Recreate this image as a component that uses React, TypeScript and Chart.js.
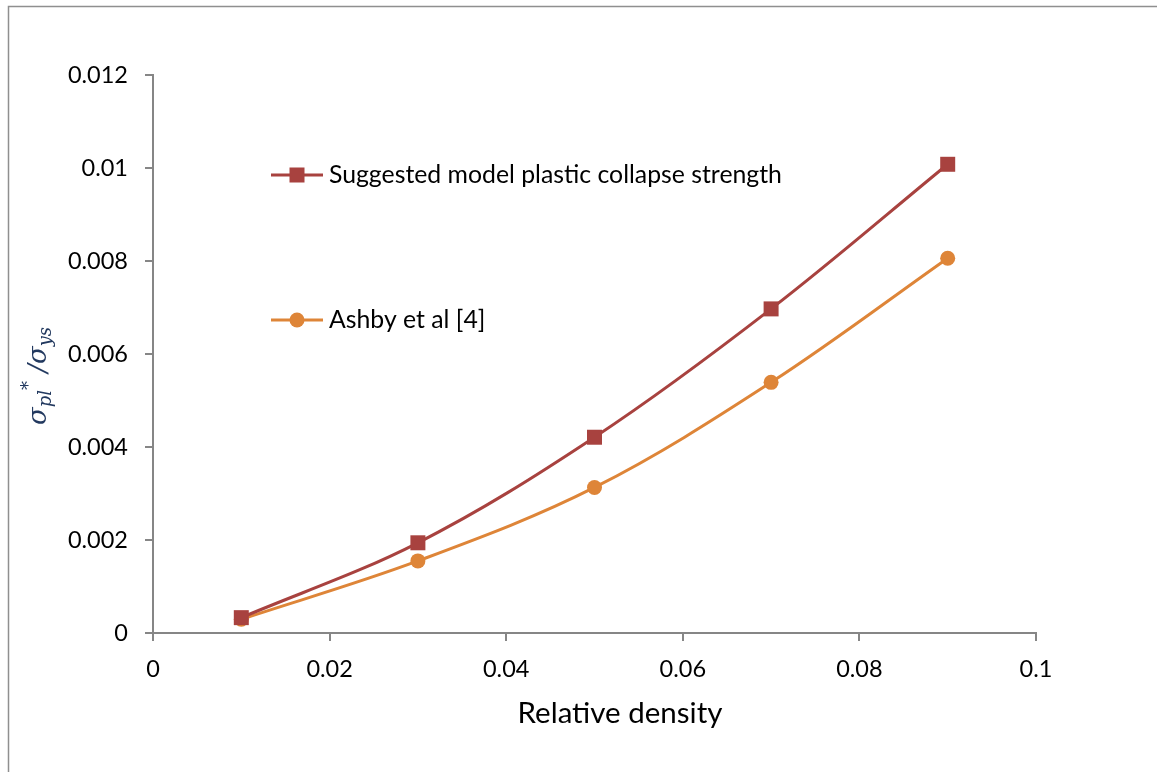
import React, { useEffect, useRef } from "react";
import { Chart, registerables } from "chart.js";

Chart.register(...registerables);

const densities = [0.01, 0.03, 0.05, 0.07, 0.09];
const suggestedValues = [0.00033, 0.00194, 0.00421, 0.00697, 0.01008];
const ashbyValues = [0.000295, 0.00155, 0.00313, 0.00539, 0.00806];
const seriesNames = ["Suggested model plastic collapse strength", "Ashby et al [4]"];
const xTitle = "Relative density";

const RED = "#A8423F";
const ORANGE = "#DE8538";
const AXIS = "#868686";
const FONT = "Lato, 'Open Sans', sans-serif";

const fmt = (v: number) => String(Number(v.toFixed(4)));

const decorPlugin = {
  id: "decor",
  beforeDraw(chart: any) {
    const ctx = chart.ctx;
    ctx.save();
    ctx.strokeStyle = "#8f8f8f";
    ctx.lineWidth = 1.5;
    ctx.beginPath();
    ctx.moveTo(8.5, 800);
    ctx.lineTo(8.5, 6.5);
    ctx.lineTo(1200, 6.5);
    ctx.stroke();
    ctx.restore();
  },
  afterDraw(chart: any) {
    const ctx = chart.ctx;
    ctx.save();
    // Legend
    const items = [
      { name: seriesNames[0], color: RED, style: "rect", y: 175 },
      { name: seriesNames[1], color: ORANGE, style: "circle", y: 320 },
    ];
    for (const it of items) {
      ctx.strokeStyle = it.color;
      ctx.lineWidth = 3;
      ctx.beginPath();
      ctx.moveTo(271, it.y);
      ctx.lineTo(323, it.y);
      ctx.stroke();
      ctx.fillStyle = it.color;
      if (it.style === "rect") {
        ctx.fillRect(297 - 7.5, it.y - 7.5, 15, 15);
      } else {
        ctx.beginPath();
        ctx.arc(297, it.y, 7.5, 0, Math.PI * 2);
        ctx.fill();
      }
      ctx.fillStyle = "#000";
      ctx.font = `24.8px ${FONT}`;
      ctx.textBaseline = "middle";
      ctx.textAlign = "left";
      ctx.fillText(it.name, 329, it.y);
    }
    // X title
    ctx.fillStyle = "#000";
    ctx.font = `29.5px ${FONT}`;
    ctx.textAlign = "center";
    ctx.textBaseline = "middle";
    ctx.fillText(xTitle, 620, 713);

    // Y title: sigma_pl^* / sigma_ys
    ctx.translate(46, 376);
    ctx.rotate(-Math.PI / 2);
    ctx.fillStyle = "#22395F";
    ctx.textBaseline = "alphabetic";
    ctx.textAlign = "left";
    const big = `italic 26px 'DejaVu Serif', 'Liberation Serif', serif`;
    const small = `italic 18px 'DejaVu Serif', 'Liberation Serif', serif`;
    const parts = [
      { t: "σ", f: big, dy: 0 },
      { t: "pl", f: small, dy: 5 },
      { t: "*", f: small, dy: -12 },
      { t: " /", f: big, dy: 0 },
      { t: "σ", f: big, dy: 0 },
      { t: "ys", f: small, dy: 5 },
    ];
    let total = 0;
    for (const p of parts) {
      ctx.font = p.f;
      total += ctx.measureText(p.t).width;
    }
    let x = -total / 2;
    for (const p of parts) {
      ctx.font = p.f;
      ctx.fillText(p.t, x, p.dy);
      x += ctx.measureText(p.t).width;
    }
    ctx.restore();
  },
};

export default function App() {
  const ref = useRef<HTMLCanvasElement | null>(null);
  useEffect(() => {
    if (!ref.current) return;
    const chart = new Chart(ref.current, {
      type: "line",
      data: {
        datasets: [
          {
            label: seriesNames[0],
            data: densities.map((d, i) => ({ x: d, y: suggestedValues[i] })),
            borderColor: RED,
            backgroundColor: RED,
            borderWidth: 3,
            pointStyle: "rect",
            pointRadius: 10.6,
            pointBorderWidth: 0,
            tension: 0.35,
            fill: false,
          },
          {
            label: seriesNames[1],
            data: densities.map((d, i) => ({ x: d, y: ashbyValues[i] })),
            borderColor: ORANGE,
            backgroundColor: ORANGE,
            borderWidth: 3,
            pointStyle: "circle",
            pointRadius: 7.5,
            pointBorderWidth: 0,
            tension: 0.35,
            fill: false,
          },
        ],
      },
      options: {
        animation: false,
        responsive: true,
        maintainAspectRatio: false,
        layout: { padding: { top: 75, right: 121, left: 0, bottom: 0 } },
        plugins: { legend: { display: false }, tooltip: { enabled: false } },
        scales: {
          x: {
            type: "linear",
            min: 0,
            max: 0.1,
            ticks: {
              stepSize: 0.02,
              color: "#000",
              font: { family: FONT, size: 23.5 },
              padding: 14,
              callback: (v: any) => fmt(Number(v)),
            },
            grid: { drawOnChartArea: false, drawTicks: true, tickLength: 8, color: AXIS, lineWidth: 2 },
            border: { color: AXIS, width: 2 },
            afterFit: (s: any) => {
              s.height = 139;
            },
          },
          y: {
            type: "linear",
            min: 0,
            max: 0.012,
            ticks: {
              stepSize: 0.002,
              color: "#000",
              font: { family: FONT, size: 23.5 },
              padding: 17,
              callback: (v: any) => fmt(Number(v)),
            },
            grid: { drawOnChartArea: false, drawTicks: true, tickLength: 8, color: AXIS, lineWidth: 2 },
            border: { color: AXIS, width: 2 },
            afterFit: (s: any) => {
              s.width = 153;
            },
          },
        },
      },
      plugins: [decorPlugin],
    } as any);
    return () => chart.destroy();
  }, []);
  return (
    <div style={{ position: "absolute", left: 0, top: 0, width: 1157, height: 772, background: "#fff" }}>
      <canvas ref={ref} />
    </div>
  );
}
